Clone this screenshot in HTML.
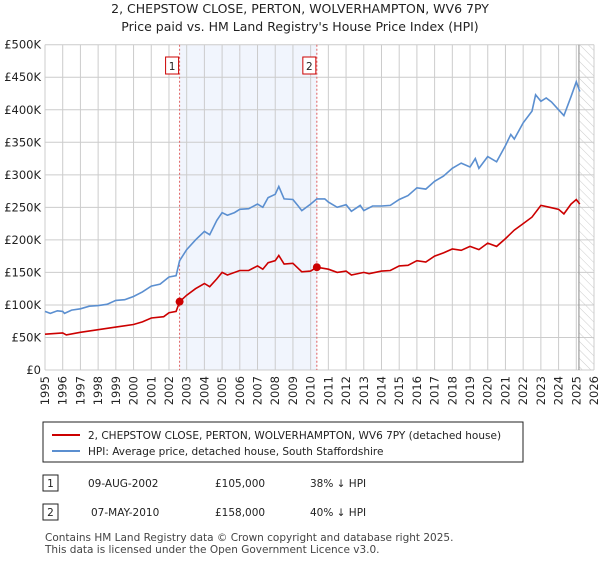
<!DOCTYPE html>
<html><head><meta charset="utf-8"><style>
body{margin:0;background:#fff;font-family:"Liberation Sans","DejaVu Sans",sans-serif;}
svg text{font-family:"DejaVu Sans","Liberation Sans",sans-serif;}
</style></head><body>
<svg id="chart" width="600" height="560" viewBox="0 0 600 560">
<defs><pattern id="hatch" width="6" height="6" patternUnits="userSpaceOnUse" patternTransform="rotate(-45)"><line x1="0" y1="0" x2="0" y2="6" stroke="#ccc" stroke-width="1"/></pattern></defs>
<text x="300" y="13" text-anchor="middle" font-size="12.5" fill="#222">2, CHEPSTOW CLOSE, PERTON, WOLVERHAMPTON, WV6 7PY</text>
<text x="300" y="31" text-anchor="middle" font-size="12.5" fill="#222">Price paid vs. HM Land Registry's House Price Index (HPI)</text>
<g id="plot"></g>
<g>
<rect x="43" y="422" width="480" height="40" fill="#fff" stroke="#222"/>
<line x1="52" y1="435" x2="80" y2="435" stroke="#cc0000" stroke-width="2"/>
<text x="88" y="439" font-size="10.5" fill="#222">2, CHEPSTOW CLOSE, PERTON, WOLVERHAMPTON, WV6 7PY (detached house)</text>
<line x1="52" y1="451" x2="80" y2="451" stroke="#5b8fd0" stroke-width="2"/>
<text x="88" y="455" font-size="10.5" fill="#222">HPI: Average price, detached house, South Staffordshire</text>
</g>
<g font-size="10.5" fill="#222">
<rect x="43" y="475" width="15" height="16" fill="#fff" stroke="#222"/><text x="50.5" y="487" text-anchor="middle">1</text>
<text x="88" y="487">09-AUG-2002</text><text x="215" y="487">£105,000</text><text x="310" y="487">38% ↓ HPI</text>
<rect x="43" y="504" width="15" height="16" fill="#fff" stroke="#222"/><text x="50.5" y="516" text-anchor="middle">2</text>
<text x="91" y="516">07-MAY-2010</text><text x="215" y="516">£158,000</text><text x="310" y="516">40% ↓ HPI</text>
</g>
<text x="45" y="541" font-size="10.5" fill="#444">Contains HM Land Registry data © Crown copyright and database right 2025.</text>
<text x="45" y="553" font-size="10.5" fill="#444">This data is licensed under the Open Government Licence v3.0.</text>
</svg>
<script>
const yTicks=[0,50,100,150,200,250,300,350,400,450,500];
const yTickLabels=["£0","£50K","£100K","£150K","£200K","£250K","£300K","£350K","£400K","£450K","£500K"];
const xYears=[1995,1996,1997,1998,1999,2000,2001,2002,2003,2004,2005,2006,2007,2008,2009,2010,2011,2012,2013,2014,2015,2016,2017,2018,2019,2020,2021,2022,2023,2024,2025,2026];
const hpiT=[1995,1995.3,1995.7,1996,1996.1,1996.5,1997,1997.5,1998,1998.5,1999,1999.5,2000,2000.5,2001,2001.5,2002,2002.4,2002.6,2003,2003.5,2004,2004.3,2004.7,2005,2005.3,2005.7,2006,2006.5,2007,2007.3,2007.6,2008,2008.2,2008.5,2009,2009.3,2009.5,2010,2010.35,2010.8,2011,2011.5,2012,2012.3,2012.8,2013,2013.5,2014,2014.5,2015,2015.5,2016,2016.5,2017,2017.5,2018,2018.5,2019,2019.3,2019.5,2020,2020.5,2021,2021.3,2021.5,2022,2022.5,2022.7,2023,2023.3,2023.6,2024,2024.3,2024.7,2025,2025.2];
const hpiV=[90,87,91,90,87,92,94,98,99,101,107,108,113,120,129,132,143,145,168,185,200,213,208,230,242,238,242,247,248,255,250,265,270,282,263,262,252,245,255,263,263,258,250,254,244,253,245,252,252,253,262,268,280,278,290,298,310,318,312,325,310,328,320,345,362,355,380,398,423,413,418,412,400,391,420,443,428];
const ppT=[1995,1996,1996.2,1997,1998,1999,2000,2000.5,2001,2001.7,2002,2002.4,2002.6,2003,2003.5,2004,2004.3,2004.7,2005,2005.3,2006,2006.5,2007,2007.3,2007.6,2008,2008.2,2008.5,2009,2009.5,2010,2010.35,2011,2011.5,2012,2012.3,2013,2013.3,2014,2014.5,2015,2015.5,2016,2016.5,2017,2017.5,2018,2018.5,2019,2019.5,2020,2020.5,2021,2021.5,2022,2022.5,2023,2023.5,2024,2024.3,2024.7,2025,2025.2];
const ppV=[55,57,54,58,62,66,70,74,80,82,88,90,105,115,125,133,128,140,150,146,153,153,160,155,165,168,176,163,164,151,152,158,155,150,152,146,150,148,152,153,160,161,168,166,175,180,186,184,190,185,195,190,202,215,225,235,253,250,247,240,255,262,255];
const saleT=[2002.6,2010.35];
const saleV=[105,158];
const saleLabels=["1","2"];
const X0=45,X1=594,Y0=370,Y1=44.7;
const xs=t=>X0+(t-1995)/(2026-1995)*(X1-X0);
const ys=v=>Y0-v/500*(Y0-Y1);
const NS="http://www.w3.org/2000/svg";
const g=document.getElementById('plot');
function mk(tag,attrs,parent){const e=document.createElementNS(NS,tag);for(const k in attrs)e.setAttribute(k,attrs[k]);(parent||g).appendChild(e);return e;}
let r=mk('rect',{x:xs(saleT[0]),y:Y1,width:xs(saleT[1])-xs(saleT[0]),height:Y0-Y1,fill:'#eef3fc',opacity:0.8});


let h=mk('rect',{x:xs(2025.15),y:Y1,width:X1-xs(2025.15),height:Y0-Y1,fill:'url(#hatch)'});


yTicks.forEach((v,i)=>{
 let l=mk('line',{x1:X0,x2:X1,y1:ys(v),y2:ys(v),stroke:'#ccc','stroke-width':1});
 
 
 let t=mk('text',{x:X0-4,y:ys(v)+4,'text-anchor':'end','font-size':11.5,fill:'#222'});
 t.textContent=yTickLabels[i];
 
 
});
xYears.forEach(yr=>{
 let l=mk('line',{x1:xs(yr),x2:xs(yr),y1:Y1,y2:Y0,stroke:'#ccc','stroke-width':1});
 
 
 let t=mk('text',{x:0,y:0,'text-anchor':'end','font-size':11.5,fill:'#222',transform:`translate(${xs(yr)+4},${Y0+6}) rotate(-90)`});
 t.textContent=yr;
 
 
});
let v=mk('line',{x1:xs(2025.15),x2:xs(2025.15),y1:Y1,y2:Y0,stroke:'#888','stroke-width':1});


saleT.forEach((t,i)=>{
 let l=mk('line',{x1:xs(t),x2:xs(t),y1:Y1,y2:Y0,stroke:'#e06060','stroke-width':1,'stroke-dasharray':'2,2'});
 
 
 let b=mk('rect',{x:xs(t)-14,y:57,width:13,height:17,fill:'#fff',stroke:'#cc0000'});
 
 
 let tx=mk('text',{x:xs(t)-7.5,y:70,'text-anchor':'middle','font-size':10.5,fill:'#222'});
 tx.textContent=saleLabels[i];
 
 
});
const path=(T,V)=>T.map((t,i)=>(i?'L':'M')+xs(t).toFixed(1)+','+ys(V[i]).toFixed(1)).join('');
let hp=mk('path',{d:path(hpiT,hpiV),fill:'none',stroke:'#5b8fd0','stroke-width':1.6});


let pp=mk('path',{d:path(ppT,ppV),fill:'none',stroke:'#cc0000','stroke-width':1.6});


saleT.forEach((t,i)=>{
 let c=mk('circle',{cx:xs(t),cy:ys(saleV[i]),r:4,fill:'#cc0000'});
 
 
});
</script>
</body></html>
